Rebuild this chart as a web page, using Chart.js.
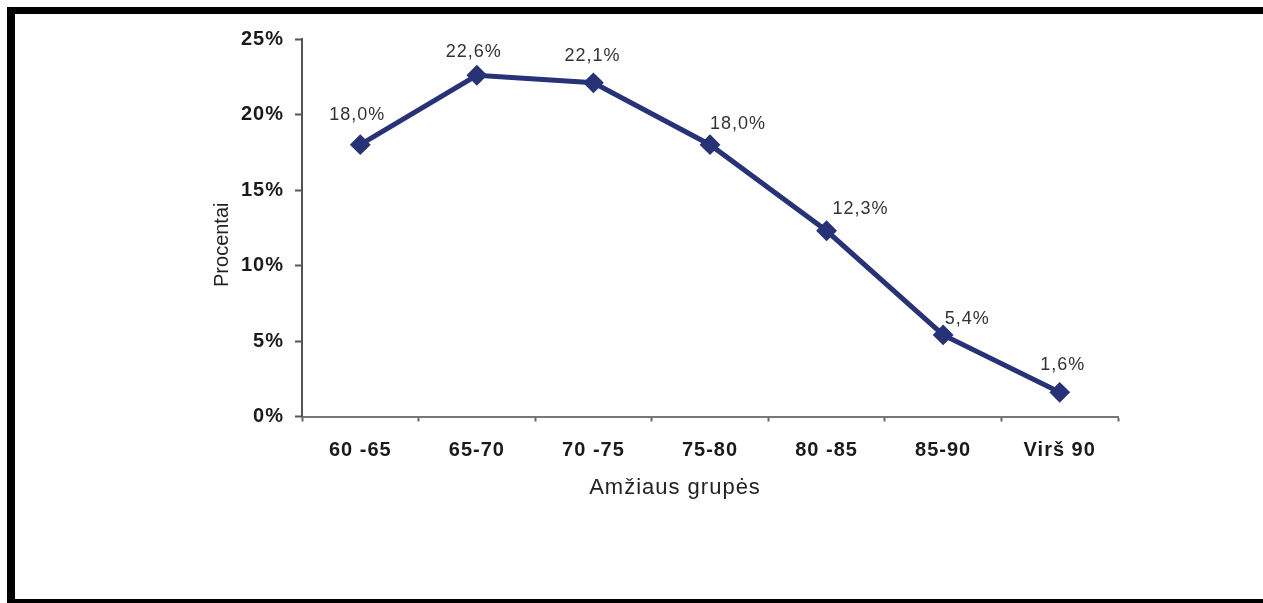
<!DOCTYPE html>
<html lang="lt">
<head>
<meta charset="utf-8">
<title>Amžiaus grupės</title>
<script src="https://cdn.jsdelivr.net/npm/chart.js@4/dist/chart.umd.min.js"></script>
<style>
  html, body { margin: 0; padding: 0; background: #ffffff; }
  #wrap { position: relative; width: 1263px; height: 603px; }
  canvas { display: block; }
</style>
</head>
<body>
<div id="wrap"><canvas id="c" width="1263" height="603"></canvas></div>
<script>
// Age groups and their share of the total, in percent
const categories = ['60 -65', '65-70', '70 -75', '75-80', '80 -85', '85-90', 'Virš 90'];
const shares = [18.0, 22.6, 22.1, 18.0, 12.3, 5.4, 1.6];
const yTicks = [0, 5, 10, 15, 20, 25];
const xTitle = 'Amžiaus grupės';
const yTitle = 'Procentai';

const FONT = '"Liberation Sans", Arial, Helvetica, sans-serif';
const NAVY = '#283276';

// Value label placement relative to each point (px)
const labelOffsets = [[-3, -30], [-3, -23], [-1, -27], [28, -21], [34, -22], [24, -16], [3, -27]];

// Slightly open letter spacing for the axis tick labels
const spacing = {
  id: 'spacing',
  beforeDraw(chart) { chart.ctx.letterSpacing = '1px'; },
  beforeDatasetsDraw(chart) { chart.ctx.letterSpacing = '0px'; }
};

const valueLabels = {
  id: 'valueLabels',
  afterDatasetsDraw(chart) {
    const ctx = chart.ctx;
    const meta = chart.getDatasetMeta(0);
    ctx.save();
    ctx.letterSpacing = '1px';
    ctx.font = '18px ' + FONT;
    ctx.fillStyle = '#333333';
    ctx.textAlign = 'center';
    ctx.textBaseline = 'middle';
    meta.data.forEach((pt, i) => {
      const v = chart.data.datasets[0].data[i];
      const txt = v.toFixed(1).replace('.', ',') + '%';
      const [dx, dy] = labelOffsets[i];
      ctx.fillText(txt, pt.x + dx, pt.y + dy);
    });
    ctx.restore();
  }
};

// Axis titles, placed beside their scales
const axisTitles = {
  id: 'axisTitles',
  afterDraw(chart) {
    const ctx = chart.ctx;
    const xs = chart.scales.x, ys = chart.scales.y;
    ctx.save();
    ctx.fillStyle = '#222222';
    ctx.textAlign = 'center';
    ctx.textBaseline = 'middle';
    ctx.letterSpacing = '1px';
    ctx.font = '22px ' + FONT;
    ctx.fillText(xTitle, (xs.left + xs.right) / 2 - 35, xs.top + 71);
    ctx.letterSpacing = '0px';
    ctx.font = '20px ' + FONT;
    ctx.translate(ys.left + 22, (ys.top + ys.bottom) / 2 + 17);
    ctx.rotate(-Math.PI / 2);
    ctx.fillText(yTitle, 0, 0);
    ctx.restore();
  }
};

// Black frame along the top, left and bottom edges
const frame = {
  id: 'frame',
  afterDraw(chart) {
    const ctx = chart.ctx;
    ctx.save();
    ctx.fillStyle = '#000000';
    ctx.fillRect(7, 7, 1256, 7);
    ctx.fillRect(7, 7, 8, 596);
    ctx.fillRect(7, 599, 1256, 4);
    ctx.restore();
  }
};

new Chart(document.getElementById('c'), {
  type: 'line',
  data: {
    labels: categories,
    datasets: [{
      data: shares,
      borderColor: NAVY,
      backgroundColor: NAVY,
      borderWidth: 5,
      pointStyle: 'rectRot',
      pointRadius: 9,
      pointBorderWidth: 2,
      pointBorderColor: NAVY,
      pointBackgroundColor: NAVY,
      tension: 0,
      fill: false
    }]
  },
  options: {
    responsive: false,
    animation: false,
    events: [],
    layout: { padding: { left: 200, top: 39, right: 145, bottom: 102 } },
    plugins: {
      legend: { display: false },
      tooltip: { enabled: false }
    },
    scales: {
      x: {
        offset: true,
        grid: {
          offset: true,
          drawOnChartArea: false,
          drawTicks: true,
          tickLength: 5,
          tickWidth: 2,
          tickColor: '#666666'
        },
        border: { display: true, color: '#777777', width: 2 },
        ticks: {
          padding: 17,
          color: '#1a1a1a',
          font: { family: FONT, size: 20, weight: 'bold' }
        },
        afterFit(scale) { scale.height = 84.5; }
      },
      y: {
        min: 0,
        max: 25,
        afterBuildTicks(scale) { scale.ticks = yTicks.map(v => ({ value: v })); },
        grid: {
          drawOnChartArea: false,
          drawTicks: true,
          tickLength: 7,
          tickWidth: 2,
          tickColor: '#555555'
        },
        border: { display: true, color: '#555555', width: 2 },
        ticks: {
          padding: 11,
          color: '#1a1a1a',
          font: { family: FONT, size: 20, weight: 'bold' },
          callback: v => v + '%'
        },
        afterFit(scale) { scale.width = 102; }
      }
    }
  },
  plugins: [spacing, valueLabels, axisTitles, frame]
});
</script>
</body>
</html>
